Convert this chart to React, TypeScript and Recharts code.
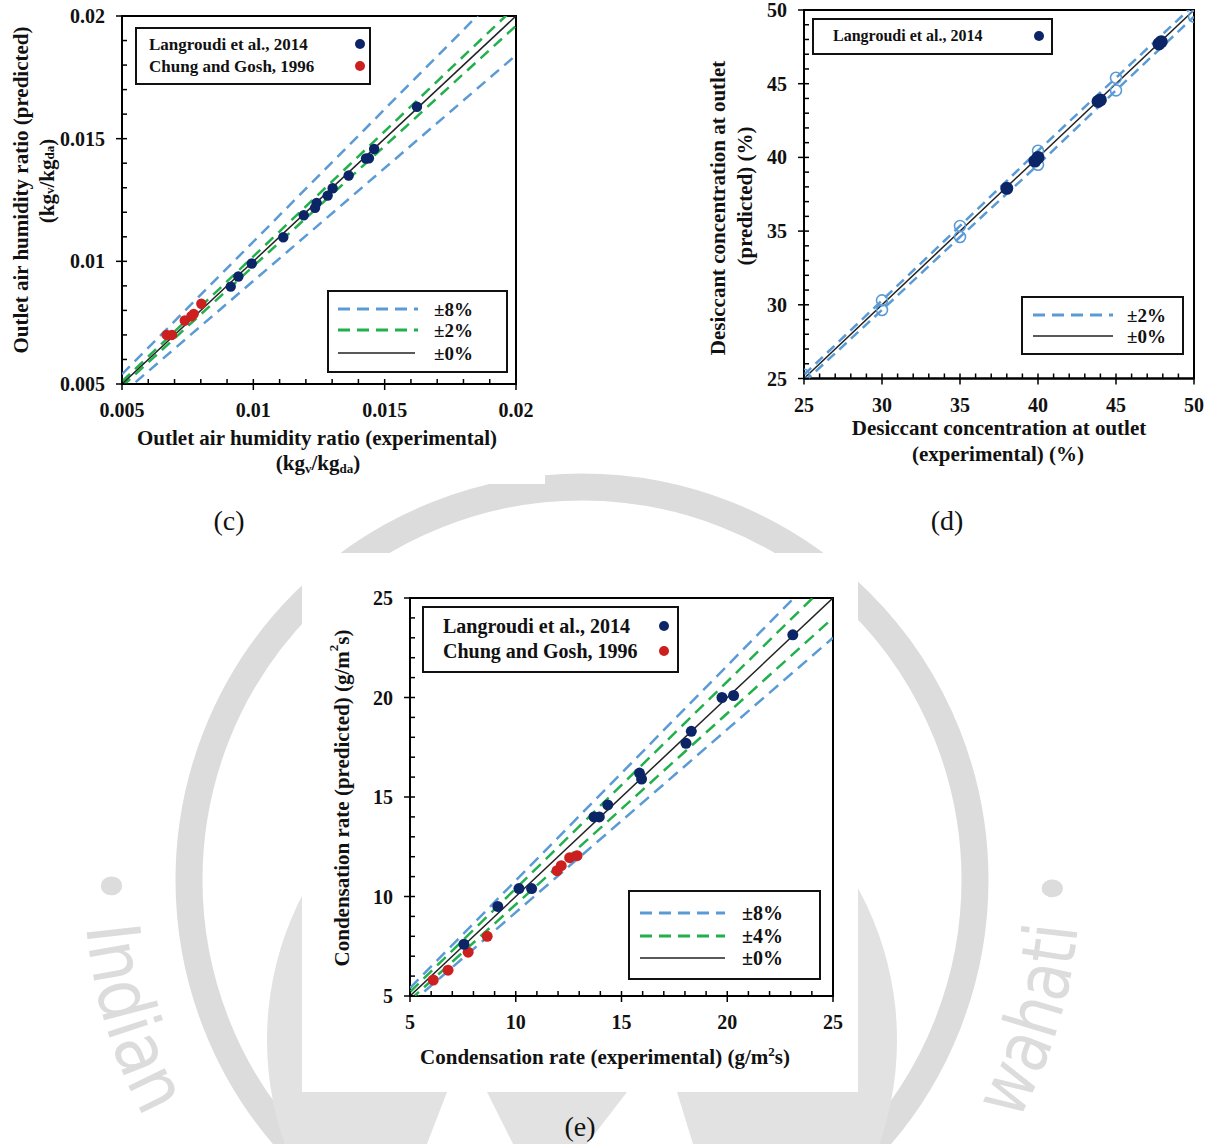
import React from "react";
import { ScatterChart, Scatter, XAxis, YAxis, ReferenceArea } from "recharts";

const SERIF = '"Liberation Serif", "Times New Roman", serif';
const NAVY = "#0b2566";
const RED = "#cc1f1f";
const BLUE = "#5b9bd5";
const GREEN = "#21b04b";
const INK = "#222";
const WM = "#dcdcdc";

// (c) outlet air humidity ratio, experimental (x) vs predicted (y)
const cLangX = [0.01623, 0.0146, 0.0144, 0.01429, 0.01363, 0.01302, 0.01283, 0.01241, 0.01235, 0.01192, 0.01114, 0.00994, 0.00943, 0.00914];
const cLangY = [0.0163, 0.01458, 0.0142, 0.01419, 0.0135, 0.01298, 0.01268, 0.01238, 0.01218, 0.01188, 0.01098, 0.00991, 0.00938, 0.00897];
const cChungX = [0.0067, 0.0069, 0.00739, 0.00764, 0.00773, 0.00802];
const cChungY = [0.007, 0.007, 0.00759, 0.00776, 0.00786, 0.00827];
const cTicks = [0.005, 0.01, 0.015, 0.02];
const cBands = [8, 2];

// (d) desiccant concentration at outlet (%)
const dLangX = [38.0, 39.8, 40.0, 43.85, 44.0, 47.75, 47.9];
const dLangY = [37.9, 39.75, 40.0, 43.8, 43.9, 47.7, 47.85];
const dBandX = [25, 30, 35, 40, 45, 50];
const dUpper = [25.25, 30.3, 35.35, 40.45, 45.4, 50.35];
const dLower = [24.75, 29.65, 34.6, 39.5, 44.55, 49.55];
const dTicks = [25, 30, 35, 40, 45, 50];

// (e) condensation rate (g/m2s)
const eLangX = [23.1, 19.75, 20.3, 18.3, 18.05, 15.85, 15.95, 14.35, 13.95, 13.7, 10.75, 10.15, 9.15, 7.55];
const eLangY = [23.15, 20.0, 20.1, 18.3, 17.7, 16.2, 15.9, 14.6, 14.0, 14.0, 10.4, 10.4, 9.5, 7.6];
const eChungX = [6.1, 6.8, 7.75, 8.65, 11.95, 12.15, 12.55, 12.9];
const eChungY = [5.8, 6.3, 7.2, 8.0, 11.3, 11.55, 11.95, 12.05];
const eTicks = [5, 10, 15, 20, 25];
const eBands = [8, 4];

const zip = (xs: number[], ys: number[]) => xs.map((x, i) => ({ x, y: ys[i] }));
const band = (lo: number, hi: number, pct: number) => [
  { x: lo, y: lo * (1 + pct / 100) },
  { x: hi, y: hi * (1 + pct / 100) },
];
const minorTicks = (lo: number, hi: number, step: number) => {
  const out: number[] = [];
  for (let i = 0; lo + i * step <= hi + step / 10; i++) out.push(Number((lo + i * step).toFixed(6)));
  return out;
};
const isMajor = (majors: number[], v: number) => majors.some((m) => Math.abs(m - v) < 1e-9);

const TICK_FS = 20;
const Y_W = 60;
const X_H = 30;

const yTick = (majors: number[]) => (p: any) => {
  const v = Number(p.payload.value);
  const big = isMajor(majors, v);
  return (
    <g>
      <line x1={big ? p.x - 6 : p.x} x2={p.x + 5} y1={p.y} y2={p.y} stroke="#000" strokeWidth={1.5} />
      {big && (
        <text x={p.x - 17} y={p.y} dy="0.35em" textAnchor="end" fontFamily={SERIF} fontWeight="bold" fontSize={TICK_FS} fill="#111">
          {String(v)}
        </text>
      )}
    </g>
  );
};

const xTick = (majors: number[]) => (p: any) => {
  const v = Number(p.payload.value);
  const big = isMajor(majors, v);
  return (
    <g>
      <line x1={p.x} x2={p.x} y1={p.y - 5} y2={big ? p.y + 6 : p.y} stroke="#000" strokeWidth={1.5} />
      {big && (
        <text x={p.x} y={p.y + 26} dy="0.35em" textAnchor="middle" fontFamily={SERIF} fontWeight="bold" fontSize={TICK_FS} fill="#111">
          {String(v)}
        </text>
      )}
    </g>
  );
};

const hidden = () => <g />;
const dot = (r: number, fill: string) => (p: any) => <circle cx={p.cx} cy={p.cy} r={r} fill={fill} />;
const ring = (r: number, stroke: string) => (p: any) => (
  <circle cx={p.cx} cy={p.cy} r={r} fill="none" stroke={stroke} strokeWidth={1.6} />
);

interface Box { left: number; top: number; width: number; height: number }

function Panel({ box, plot, lo, hi, step, majors, children }: { box: Box; plot: Box; lo: number; hi: number; step: number; majors: number[]; children: React.ReactNode }) {
  const margin = {
    top: plot.top,
    left: plot.left - Y_W,
    right: box.width - plot.left - plot.width,
    bottom: box.height - plot.top - plot.height - X_H,
  };
  const ticks = minorTicks(lo, hi, step);
  return (
    <div style={{ position: "absolute", left: box.left, top: box.top, width: box.width, height: box.height, background: "#fff" }}>
      <ScatterChart width={box.width} height={box.height} margin={margin}>
        <XAxis type="number" dataKey="x" domain={[lo, hi]} allowDataOverflow ticks={ticks} interval={0} height={X_H}
          tickSize={0} tickMargin={0} tickLine={false} axisLine={{ stroke: "#000", strokeWidth: 2 }} tick={xTick(majors)} />
        <YAxis type="number" dataKey="y" domain={[lo, hi]} allowDataOverflow ticks={ticks} interval={0} width={Y_W}
          tickSize={0} tickMargin={0} tickLine={false} axisLine={{ stroke: "#000", strokeWidth: 2 }} tick={yTick(majors)} />
        <ReferenceArea x1={lo} x2={hi} y1={lo} y2={hi} fill="none" stroke="#000" strokeWidth={2} />
        {children}
      </ScatterChart>
    </div>
  );
}

function Txt({ x, y, size, bold = true, children }: { x: number; y: number; size: number; bold?: boolean; children: React.ReactNode }) {
  return (
    <div
      style={{
        position: "absolute", left: x, top: y, whiteSpace: "nowrap", lineHeight: 1, color: "#111",
        fontFamily: SERIF, fontWeight: bold ? "bold" : "normal", fontSize: size,
        transform: "translate(-50%, -50%)",
      }}
    >
      {children}
    </div>
  );
}

// vertical title reading bottom to top; its layout box is tall and narrow
function VTxt({ x, y, size, children }: { x: number; y: number; size: number; children: React.ReactNode }) {
  return (
    <div
      style={{
        position: "absolute", left: x, top: y, whiteSpace: "nowrap", lineHeight: 1, color: "#111",
        fontFamily: SERIF, fontWeight: "bold", fontSize: size, writingMode: "vertical-rl",
        transform: "translate(-50%, -50%) rotate(180deg)",
      }}
    >
      {children}
    </div>
  );
}

const Sub = ({ children }: { children: React.ReactNode }) => (
  <span style={{ fontSize: "0.62em", verticalAlign: "-0.25em", lineHeight: 0 }}>{children}</span>
);
const Sup = ({ children }: { children: React.ReactNode }) => (
  <span style={{ fontSize: "0.62em", verticalAlign: "0.55em", lineHeight: 0 }}>{children}</span>
);

function Frame({ left, top, width, height }: Box) {
  return <div style={{ position: "absolute", left, top, width, height, border: "2px solid #111", boxSizing: "border-box" }} />;
}

function LegendRow({ x, y, text, size, color, dotX }: { x: number; y: number; text: string; size: number; color: string; dotX: number }) {
  return (
    <>
      <div style={{ position: "absolute", left: x, top: y, transform: "translateY(-50%)", fontFamily: SERIF, fontWeight: "bold", fontSize: size, lineHeight: 1, whiteSpace: "nowrap", color: "#111" }}>
        {text}
      </div>
      <div style={{ position: "absolute", left: dotX - 5, top: y - 5, width: 10, height: 10, borderRadius: "50%", background: color }} />
    </>
  );
}

function LineKey({ x1, x2, y, color, dash, width, label, labelX, size }: { x1: number; x2: number; y: number; color: string; dash?: string; width: number; label: string; labelX: number; size: number }) {
  return (
    <>
      <svg style={{ position: "absolute", left: x1, top: y - 3, overflow: "visible" }} width={x2 - x1} height={6}>
        <line x1={0} x2={x2 - x1} y1={3} y2={3} stroke={color} strokeWidth={width} strokeDasharray={dash} />
      </svg>
      <div style={{ position: "absolute", left: labelX, top: y, transform: "translateY(-50%)", fontFamily: SERIF, fontWeight: "bold", fontSize: size, lineHeight: 1, color: "#111" }}>
        {label}
      </div>
    </>
  );
}

// faint institute seal behind the figure
function Watermark() {
  const cx = 582;
  const cy = 880;
  const r = 498;
  const a = (30 * Math.PI) / 180;
  const sx = cx - r * Math.cos(a);
  const sy = cy - r * Math.sin(a);
  const ex = cx + r * Math.cos(a);
  const arc = (deg: number) => (deg * Math.PI * r) / 180;
  return (
    <svg width={1211} height={1144} style={{ position: "absolute", left: 0, top: 0 }}>
      <defs>
        <path id="wm-arc" d={`M ${sx} ${sy} A ${r} ${r} 0 1 0 ${ex} ${sy}`} />
      </defs>
      <circle cx={cx} cy={cy} r={393} fill="none" stroke={WM} strokeWidth={27} />
      <circle cx={cx} cy={1040} r={315} fill="#e2e2e2" />
      <polygon points="447,1092 487,1092 513,1144 427,1144" fill="#fff" />
      <polygon points="627,1092 677,1092 693,1144 587,1144" fill="#fff" />
      <text fontFamily='"DejaVu Sans", sans-serif' fontSize={74} fill={WM}>
        <textPath href="#wm-arc" startOffset={arc(28.5)} textLength={arc(30)} lengthAdjust="spacingAndGlyphs">
          • Indian
        </textPath>
      </text>
      <text fontFamily='"DejaVu Sans", sans-serif' fontSize={74} fill={WM}>
        <textPath href="#wm-arc" startOffset={arc(181)} textLength={arc(30)} lengthAdjust="spacingAndGlyphs">
          wahati •
        </textPath>
      </text>
    </svg>
  );
}

export default function App() {
  const cLo = 0.005, cHi = 0.02;
  const dLo = 25, dHi = 50;
  const eLo = 5, eHi = 25;
  return (
    <div style={{ position: "absolute", left: 0, top: 0, width: 1211, height: 1144, background: "#fff", overflow: "hidden" }}>
      <Watermark />

      {/* (c) */}
      <Panel box={{ left: 0, top: 0, width: 545, height: 484 }} plot={{ left: 122, top: 16, width: 394, height: 368 }} lo={cLo} hi={cHi} step={0.001} majors={cTicks}>
        {cBands.flatMap((p) => [
          <Scatter key={`cu${p}`} data={band(cLo, cHi, p)} shape={hidden} isAnimationActive={false}
            line={{ stroke: p === 8 ? BLUE : GREEN, strokeWidth: 2.5, strokeDasharray: "11 7" }} />,
          <Scatter key={`cl${p}`} data={band(cLo, cHi, -p)} shape={hidden} isAnimationActive={false}
            line={{ stroke: p === 8 ? BLUE : GREEN, strokeWidth: 2.5, strokeDasharray: "11 7" }} />,
        ])}
        <Scatter data={band(cLo, cHi, 0)} shape={hidden} isAnimationActive={false} line={{ stroke: INK, strokeWidth: 1.5 }} />
        <Scatter data={zip(cChungX, cChungY)} shape={dot(5.2, RED)} isAnimationActive={false} />
        <Scatter data={zip(cLangX, cLangY)} shape={dot(5.2, NAVY)} isAnimationActive={false} />
      </Panel>

      {/* (d) */}
      <Panel box={{ left: 690, top: 0, width: 521, height: 477 }} plot={{ left: 114, top: 10, width: 390, height: 368.5 }} lo={dLo} hi={dHi} step={1} majors={dTicks}>
        <Scatter data={band(dLo, dHi, 0)} shape={hidden} isAnimationActive={false} line={{ stroke: INK, strokeWidth: 1.5 }} />
        <Scatter data={zip(dBandX, dUpper)} shape={ring(5.5, BLUE)} isAnimationActive={false}
          line={{ stroke: BLUE, strokeWidth: 2.5, strokeDasharray: "10 6" }} />
        <Scatter data={zip(dBandX, dLower)} shape={ring(5.5, BLUE)} isAnimationActive={false}
          line={{ stroke: BLUE, strokeWidth: 2.5, strokeDasharray: "10 6" }} />
        <Scatter data={zip(dLangX, dLangY)} shape={dot(6.5, NAVY)} isAnimationActive={false} />
      </Panel>

      {/* (e) */}
      <Panel box={{ left: 302, top: 553, width: 556, height: 539 }} plot={{ left: 108, top: 45, width: 423, height: 398 }} lo={eLo} hi={eHi} step={1} majors={eTicks}>
        {eBands.flatMap((p) => [
          <Scatter key={`eu${p}`} data={band(eLo, eHi, p)} shape={hidden} isAnimationActive={false}
            line={{ stroke: p === 8 ? BLUE : GREEN, strokeWidth: 2.5, strokeDasharray: "12 7" }} />,
          <Scatter key={`el${p}`} data={band(eLo, eHi, -p)} shape={hidden} isAnimationActive={false}
            line={{ stroke: p === 8 ? BLUE : GREEN, strokeWidth: 2.5, strokeDasharray: "12 7" }} />,
        ])}
        <Scatter data={band(eLo, eHi, 0)} shape={hidden} isAnimationActive={false} line={{ stroke: INK, strokeWidth: 1.5 }} />
        <Scatter data={zip(eChungX, eChungY)} shape={dot(5.5, RED)} isAnimationActive={false} />
        <Scatter data={zip(eLangX, eLangY)} shape={dot(5.5, NAVY)} isAnimationActive={false} />
      </Panel>

      {/* axis titles (c) */}
      <VTxt x={21} y={190} size={21}>Outlet air humidity ratio (predicted)</VTxt>
      <VTxt x={47} y={181} size={21}>(kg<Sub>v</Sub>/kg<Sub>da</Sub>)</VTxt>
      <Txt x={317} y={438} size={21}>Outlet air humidity ratio (experimental)</Txt>
      <Txt x={318} y={463} size={21}>(kg<Sub>v</Sub>/kg<Sub>da</Sub>)</Txt>

      {/* axis titles (d) */}
      <VTxt x={718} y={208} size={21}>Desiccant concentration at outlet</VTxt>
      <VTxt x={745} y={196} size={21}>(predicted) (%)</VTxt>
      <Txt x={999} y={428} size={21}>Desiccant concentration at outlet</Txt>
      <Txt x={998} y={454} size={21}>(experimental) (%)</Txt>

      {/* axis titles (e) */}
      <VTxt x={342} y={798} size={21}>Condensation rate (predicted) (g/m<Sup>2</Sup>s)</VTxt>
      <Txt x={605} y={1057} size={21}>Condensation rate (experimental) (g/m<Sup>2</Sup>s)</Txt>

      {/* legends (c) */}
      <Frame left={135} top={27} width={236} height={58} />
      <LegendRow x={149} y={44} text="Langroudi et al., 2014" size={17} color={NAVY} dotX={360} />
      <LegendRow x={149} y={66} text="Chung and Gosh, 1996" size={17} color={RED} dotX={360} />
      <Frame left={327} top={290} width={181} height={83} />
      <LineKey x1={338} x2={418} y={309} color={BLUE} dash="12 7" width={3} label="±8%" labelX={434} size={19} />
      <LineKey x1={338} x2={418} y={330} color={GREEN} dash="12 7" width={3} label="±2%" labelX={434} size={19} />
      <LineKey x1={338} x2={415} y={353} color={INK} width={1.5} label="±0%" labelX={434} size={19} />

      {/* legends (d) */}
      <Frame left={812} top={18} width={241} height={37} />
      <LegendRow x={833} y={36} text="Langroudi et al., 2014" size={16} color={NAVY} dotX={1039} />
      <Frame left={1021} top={296} width={163} height={59} />
      <LineKey x1={1033} x2={1113} y={315} color={BLUE} dash="12 7" width={3} label="±2%" labelX={1127} size={19} />
      <LineKey x1={1033} x2={1113} y={336} color={INK} width={1.5} label="±0%" labelX={1127} size={19} />

      {/* legends (e) */}
      <Frame left={422} top={606} width={257} height={67} />
      <LegendRow x={443} y={626} text="Langroudi et al., 2014" size={20} color={NAVY} dotX={664} />
      <LegendRow x={443} y={651} text="Chung and Gosh, 1996" size={20} color={RED} dotX={664} />
      <Frame left={628} top={890} width={193} height={90} />
      <LineKey x1={640} x2={725} y={913} color={BLUE} dash="12 7" width={3} label="±8%" labelX={742} size={20} />
      <LineKey x1={640} x2={725} y={936} color={GREEN} dash="12 7" width={3} label="±4%" labelX={742} size={20} />
      <LineKey x1={640} x2={725} y={958} color={INK} width={1.5} label="±0%" labelX={742} size={20} />

      {/* captions */}
      <Txt x={229} y={521} size={28} bold={false}>(c)</Txt>
      <Txt x={947} y={521} size={28} bold={false}>(d)</Txt>
      <Txt x={580} y={1127} size={28} bold={false}>(e)</Txt>
    </div>
  );
}
